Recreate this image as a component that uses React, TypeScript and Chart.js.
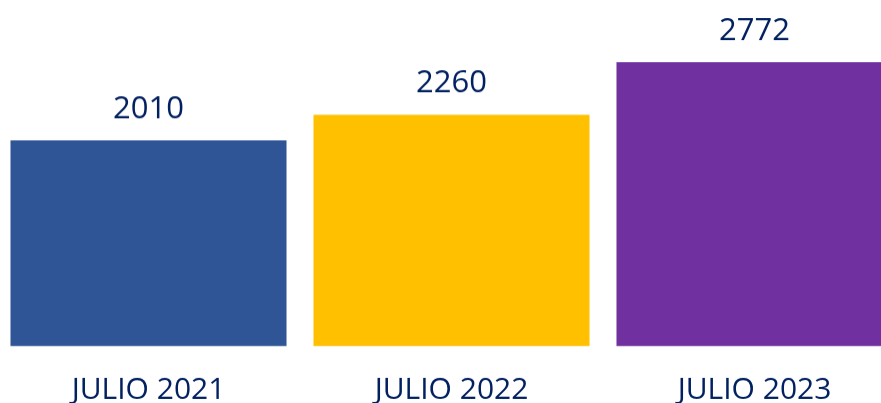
import React, { useEffect, useRef } from "react";
import { Chart, registerables } from "chart.js";

Chart.register(...registerables);

const categories = ["JULIO 2021", "JULIO 2022", "JULIO 2023"];
const values = [2010, 2260, 2772];
const barColors = ["#2F5597", "#FFC000", "#7030A0"];
const textColor = "#002060";

const valueLabelPlugin = {
  id: "valueLabels",
  afterDatasetsDraw(chart: any) {
    const ctx = chart.ctx;
    const meta = chart.getDatasetMeta(0);
    ctx.save();
    ctx.font = "31px 'Open Sans'";
    ctx.fillStyle = textColor;
    ctx.textAlign = "center";
    ctx.textBaseline = "alphabetic";
    meta.data.forEach((bar: any, i: number) => {
      ctx.fillText(String(values[i]), bar.x, bar.y - 22.5);
    });
    ctx.restore();
  },
};

export default function App() {
  const canvasRef = useRef<HTMLCanvasElement | null>(null);

  useEffect(() => {
    if (!canvasRef.current) return;
    const chart = new Chart(canvasRef.current, {
      type: "bar",
      data: {
        labels: categories,
        datasets: [
          {
            data: values,
            backgroundColor: barColors,
            borderWidth: 0,
            barPercentage: 0.911,
            categoryPercentage: 1,
          },
        ],
      },
      options: {
        animation: false,
        responsive: true,
        maintainAspectRatio: false,
        layout: { padding: { top: 38.8, left: 0, right: 0, bottom: 0 } },
        plugins: {
          legend: { display: false },
          tooltip: { enabled: false },
        },
        scales: {
          y: { display: false, min: 0, max: 3000 },
          x: {
            grid: { display: false, drawTicks: false },
            border: { display: false },
            ticks: {
              color: textColor,
              padding: 32.2,
              font: { family: "'Open Sans'", size: 30, lineHeight: 0.76 },
            },
          },
        },
      },
      plugins: [valueLabelPlugin],
    });
    return () => chart.destroy();
  }, []);

  return (
    <div
      style={{
        position: "fixed",
        left: 0,
        top: 0,
        width: 881,
        height: 403,
        overflow: "hidden",
        background: "#ffffff",
      }}
    >
      <div style={{ position: "absolute", left: -2.7, top: 0, width: 909, height: 432.7 }}>
        <canvas ref={canvasRef} />
      </div>
    </div>
  );
}
